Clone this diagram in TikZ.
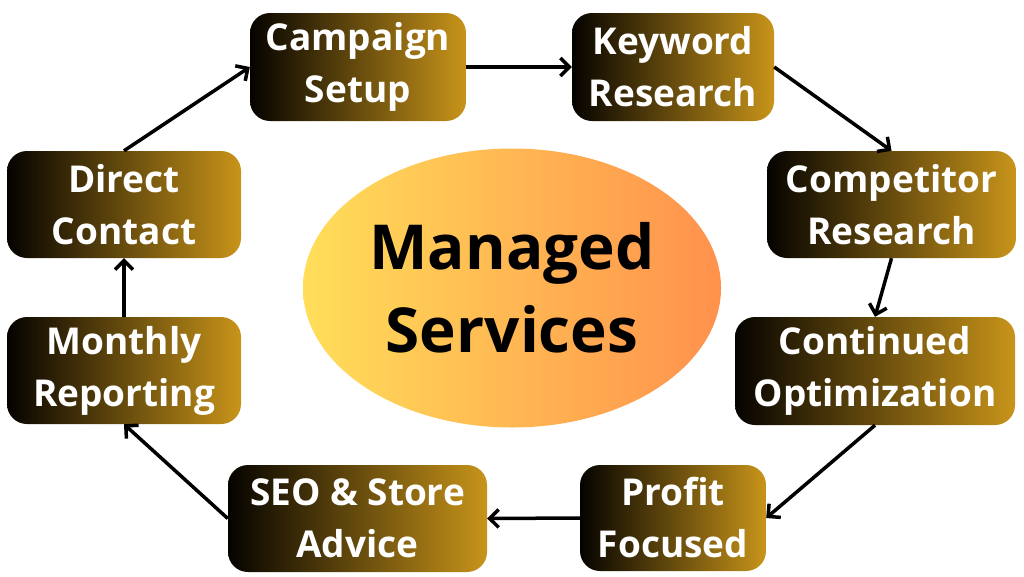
\documentclass[tikz,border=0pt]{standalone}
\usepackage{fontspec}
\setmainfont{Open Sans}
\newfontfamily\centerfont{Open Sans}
\usetikzlibrary{arrows.meta,shapes.geometric}
\definecolor{boxdark}{HTML}{050300}
\definecolor{boxgold}{HTML}{C8941A}
\definecolor{ellyellow}{HTML}{FFDE59}
\definecolor{ellorange}{HTML}{FF914D}
\tikzset{
  stepbox/.style={rounded corners=20pt, left color=boxdark, right color=boxgold,
    draw=none, text=white, align=center, inner sep=0pt,
    font=\fontsize{37}{52}\selectfont\bfseries},
  hub/.style={ellipse, left color=ellyellow, right color=ellorange, draw=none,
    inner sep=0pt, minimum width=418pt, minimum height=279pt, align=center,
    font=\centerfont\fontsize{62}{83}\selectfont\bfseries},
  flow/.style={line width=3.5pt, -{Straight Barb[length=9pt,width=18pt,line width=3.5pt]}}
}
\begin{document}
\begin{tikzpicture}[x=1pt,y=-1pt]
\useasboundingbox[fill=white] (0,0) rectangle (1024,576);
\node[hub] (hub) at (512,288) {Managed\\Services};
\node[stepbox, minimum width=216pt, minimum height=108pt] (camp) at (358,67) {Campaign\\Setup};
\node[stepbox, minimum width=202pt, minimum height=108pt] (key) at (673,67) {Keyword\\Research};
\node[stepbox, minimum width=249pt, minimum height=107pt] (comp) at (891.5,204.5) {Competitor\\Research};
\node[stepbox, minimum width=280pt, minimum height=108pt] (cont) at (875,371) {Continued\\Optimization};
\node[stepbox, minimum width=186pt, minimum height=106pt] (prof) at (673,518) {Profit\\Focused};
\node[stepbox, minimum width=259pt, minimum height=107pt] (seo) at (357.5,518.5) {SEO \& Store\\Advice};
\node[stepbox, minimum width=234pt, minimum height=107pt] (month) at (124,370.5) {Monthly\\Reporting};
\node[stepbox, minimum width=234pt, minimum height=107pt] (direct) at (124,204.5) {Direct\\Contact};
\draw[flow] (direct.north) -- (camp.west);
\draw[flow] (camp.east) -- (key.west);
\draw[flow] (key.east) -- (comp.north);
\draw[flow] (comp.south) -- (cont.north);
\draw[flow] (cont.south) -- (prof.east);
\draw[flow] (prof.west) -- (seo.east);
\draw[flow] (seo.west) -- (month.south);
\draw[flow] (month.north) -- (direct.south);
\end{tikzpicture}
\end{document}
